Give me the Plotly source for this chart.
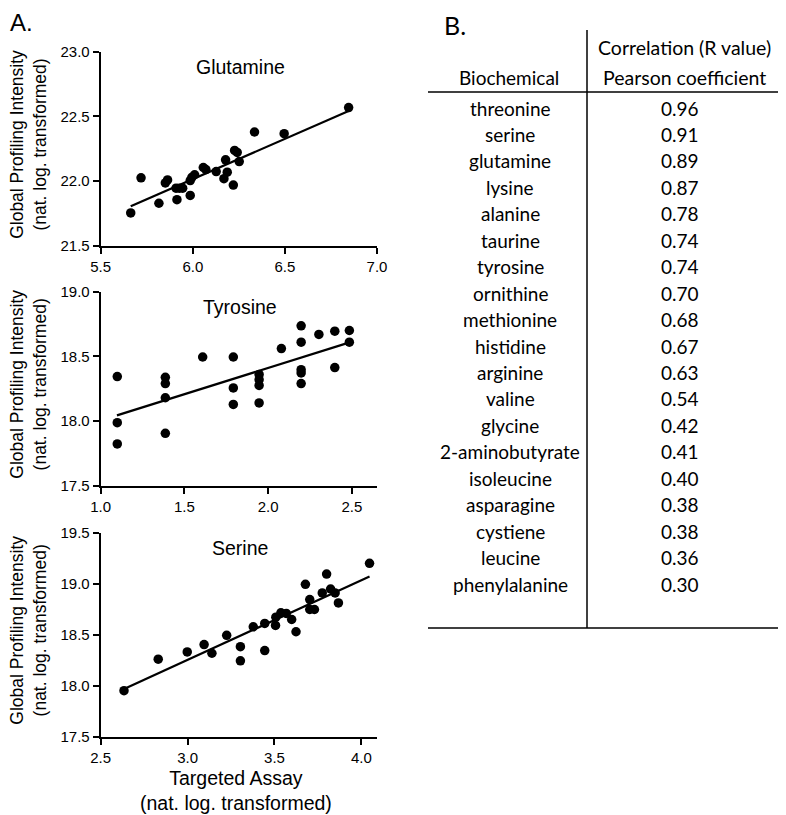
import plotly.graph_objects as go

# ---------------- data ----------------
glu_x = [5.663, 5.719, 5.816, 5.851, 5.863, 5.909, 5.914, 5.927, 5.945, 5.986, 5.986, 5.995, 6.010,
         6.057, 6.071, 6.127, 6.169, 6.178, 6.187, 6.220, 6.227, 6.241, 6.252, 6.335, 6.496, 6.846]
glu_y = [21.755, 22.026, 21.830, 21.987, 22.010, 21.946, 21.858, 21.946, 21.946, 21.890, 22.005, 22.030, 22.050,
         22.106, 22.090, 22.075, 22.020, 22.165, 22.070, 21.970, 22.238, 22.222, 22.152, 22.380, 22.367, 22.569]
glu_fit_x = [5.663, 6.846]
glu_fit_y = [21.806, 22.543]

tyr_x = [1.099, 1.099, 1.099, 1.386, 1.386, 1.386, 1.386, 1.609, 1.792, 1.792, 1.792,
         1.946, 1.946, 1.946, 1.946, 2.079, 2.197, 2.197, 2.197, 2.197, 2.197, 2.303,
         2.398, 2.398, 2.485, 2.485]
tyr_y = [18.344, 17.987, 17.823, 18.338, 18.290, 18.180, 17.905, 18.495, 18.495, 18.256, 18.128,
         18.360, 18.320, 18.275, 18.140, 18.560, 18.736, 18.610, 18.397, 18.372, 18.290, 18.670,
         18.695, 18.413, 18.700, 18.610]
tyr_fit_x = [1.097, 2.487]
tyr_fit_y = [18.044, 18.608]

ser_x = [2.634, 2.831, 2.998, 3.095, 3.140, 3.225, 3.304, 3.304, 3.378, 3.444, 3.444, 3.506, 3.508,
         3.537, 3.568, 3.599, 3.624, 3.678, 3.703, 3.703, 3.730, 3.775, 3.800, 3.823, 3.849, 3.868, 4.047]
ser_y = [17.951, 18.260, 18.331, 18.403, 18.318, 18.494, 18.383, 18.244, 18.578, 18.610, 18.344, 18.591, 18.672,
         18.714, 18.708, 18.649, 18.529, 18.994, 18.844, 18.747, 18.747, 18.910, 19.094, 18.948, 18.909, 18.812, 19.200]
ser_fit_x = [2.634, 4.047]
ser_fit_y = [17.968, 19.070]

panel_titles = ["Glutamine", "Tyrosine", "Serine"]

biochemicals = ["threonine", "serine", "glutamine", "lysine", "alanine", "taurine", "tyrosine",
                "ornithine", "methionine", "histidine", "arginine", "valine", "glycine",
                "2-aminobutyrate", "isoleucine", "asparagine", "cystiene", "leucine", "phenylalanine"]
pearson = ["0.96", "0.91", "0.89", "0.87", "0.78", "0.74", "0.74", "0.70", "0.68", "0.67",
           "0.63", "0.54", "0.42", "0.41", "0.40", "0.38", "0.38", "0.36", "0.30"]

# ---------------- layout helpers ----------------
# the page body has an 8px default margin, so the figure is drawn 8px in from the corner
OFF = 8
W, H = 786 - OFF, 815 - OFF
def px(x):
    return (x - OFF) / W
def py(y):
    return 1 - (y - OFF) / H

FONT = "Liberation Sans, Arial, sans-serif"
TFONT = "Lato, Carlito, Calibri, sans-serif"
TSIZE = 19

panels = [
    dict(x=glu_x, y=glu_y, fx=glu_fit_x, fy=glu_fit_y, xr=[5.5, 7.0], yr=[21.5, 23.0], top=51.7, bot=246.0),
    dict(x=tyr_x, y=tyr_y, fx=tyr_fit_x, fy=tyr_fit_y, xr=[1.0, 2.65], yr=[17.5, 19.0], top=291.7, bot=485.7),
    dict(x=ser_x, y=ser_y, fx=ser_fit_x, fy=ser_fit_y, xr=[2.5, 4.09], yr=[17.5, 19.5], top=532.7, bot=736.7),
]

fig = go.Figure()
layout = dict(width=W, height=H, margin=dict(l=0, r=0, t=0, b=0, autoexpand=False),
              plot_bgcolor="white", paper_bgcolor="white", showlegend=False,
              font=dict(family=FONT, color="black"))
annotations = []
shapes = []

for i, p in enumerate(panels):
    n = "" if i == 0 else str(i + 1)
    xa, ya = "x" + n, "y" + n
    fig.add_trace(go.Scatter(x=p["fx"], y=p["fy"], mode="lines", xaxis=xa, yaxis=ya,
                             line=dict(color="black", width=2.2), hoverinfo="skip"))
    fig.add_trace(go.Scatter(x=p["x"], y=p["y"], mode="markers", xaxis=xa, yaxis=ya,
                             marker=dict(color="black", size=9.5, line=dict(width=0))))
    axcommon = dict(showgrid=False, zeroline=False, showline=True, linecolor="black", linewidth=2,
                    ticks="outside", ticklen=6, tickwidth=2, tickcolor="black", dtick=0.5,
                    automargin=False,
                    tickformat=".1f", tickfont=dict(size=15, family=FONT, color="black"))
    layout["xaxis" + n] = dict(axcommon, domain=[px(100.7), px(377)], range=p["xr"], tick0=p["xr"][0],
                               anchor=ya)
    layout["yaxis" + n] = dict(axcommon, domain=[py(p["bot"]), py(p["top"])], range=p["yr"],
                               tick0=p["yr"][0], anchor=xa)
    # panel title
    annotations.append(dict(text=panel_titles[i], x=px(240), y=py(p["top"] + 15), xref="paper", yref="paper",
                            showarrow=False, font=dict(size=19.5, family=FONT), xanchor="center", yanchor="middle"))
    # y title
    annotations.append(dict(text="Global Profiling Intensity<br>(nat. log. transformed)", textangle=-90,
                            x=px(29), y=py((p["top"] + p["bot"]) / 2 - 4), xref="paper", yref="paper",
                            showarrow=False, font=dict(size=17.5, family=FONT), xanchor="center", yanchor="middle"))

annotations.append(dict(text="Targeted Assay<br>(nat. log. transformed)", x=px(236), y=py(790),
                        xref="paper", yref="paper", showarrow=False, font=dict(size=19.5, family=FONT),
                        xanchor="center", yanchor="middle"))
annotations.append(dict(text="A.", x=px(8), y=py(23), xref="paper", yref="paper", showarrow=False,
                        font=dict(size=24, family=FONT), xanchor="left", yanchor="middle"))

# ---------------- table ----------------
annotations.append(dict(text="B.", x=px(442), y=py(25), xref="paper", yref="paper", showarrow=False,
                        font=dict(size=25, family=TFONT), xanchor="left", yanchor="middle"))
annotations.append(dict(text="Correlation (R value)", x=px(684), y=py(48), xref="paper", yref="paper",
                        showarrow=False, font=dict(size=TSIZE + 0.5, family=TFONT), xanchor="center", yanchor="middle"))
annotations.append(dict(text="Pearson coefficient", x=px(684), y=py(78), xref="paper", yref="paper",
                        showarrow=False, font=dict(size=TSIZE + 0.5, family=TFONT), xanchor="center", yanchor="middle"))
annotations.append(dict(text="Biochemical", x=px(509), y=py(78), xref="paper", yref="paper",
                        showarrow=False, font=dict(size=TSIZE, family=TFONT), xanchor="center", yanchor="middle"))
row0, row_step = 108, (584 - 108) / (len(biochemicals) - 1)
for k, (name, val) in enumerate(zip(biochemicals, pearson)):
    yy = row0 + k * row_step
    annotations.append(dict(text=name, x=px(510), y=py(yy), xref="paper", yref="paper", showarrow=False,
                            font=dict(size=TSIZE, family=TFONT), xanchor="center", yanchor="middle"))
    annotations.append(dict(text=val, x=px(680), y=py(yy), xref="paper", yref="paper", showarrow=False,
                            font=dict(size=TSIZE, family=TFONT), xanchor="center", yanchor="middle"))

line = dict(color="black", width=1.5)
shapes.append(dict(type="line", xref="paper", yref="paper", x0=px(428), x1=px(782), y0=py(92), y1=py(92), line=line))
shapes.append(dict(type="line", xref="paper", yref="paper", x0=px(428), x1=px(782), y0=py(628), y1=py(628), line=line))
shapes.append(dict(type="line", xref="paper", yref="paper", x0=px(587), x1=px(587), y0=py(30), y1=py(628), line=line))

layout["annotations"] = annotations
layout["shapes"] = shapes
fig.update_layout(**layout)
fig.write_html("out.html")
